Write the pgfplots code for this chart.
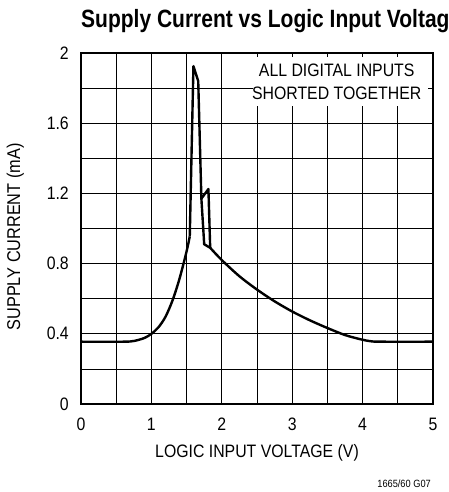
\documentclass[border=0pt]{standalone}
\usepackage{pgfplots}
\pgfplotsset{compat=1.18}
\usepackage{fontspec}
\setmainfont[FakeStretch=0.88]{Liberation Sans}
\newfontfamily\titlefont[FakeStretch=0.84]{Liberation Sans}
\newcommand{\fs}{\fontsize{18bp}{22bp}\selectfont}
\begin{document}
\begin{tikzpicture}
\useasboundingbox (0,0) rectangle (449bp,492bp);
\clip (0,0) rectangle (449bp,492bp);
\begin{axis}[
  at={(81bp,88bp)}, anchor=south west,
  scale only axis, width=352bp, height=351bp,
  xmin=0, xmax=5, ymin=0, ymax=2,
  xtick={0,1,2,3,4,5},
  minor xtick={0.5,1.5,2.5,3.5,4.5},
  ytick={0,0.4,0.8,1.2,1.6,2},
  yticklabels={0,0.4,0.8,1.2,1.6,2},
  minor ytick={0.2,0.6,1.0,1.4,1.8},
  grid=both,
  major grid style={black, line width=0.7bp},
  minor grid style={black, line width=0.7bp},
  major tick length=0pt, minor tick length=0pt,
  axis line style={black, line width=1.2bp},
  /pgf/number format/assume math mode=true,
  ticklabel style={font=\fs, inner sep=0pt},
  xticklabel style={anchor=north, yshift=-14bp},
  yticklabel style={anchor=east, xshift=-12bp},
  xlabel={LOGIC INPUT VOLTAGE (V)},
  xlabel style={font=\fs, at={(axis description cs:0.5,0)}, anchor=base, yshift=-53bp, inner sep=0pt},
]
\fill[white] (axis cs:2.44,1.70) rectangle (axis cs:4.93,1.975);
\node[font=\fs, align=center, inner sep=0pt] at (axis cs:3.632,1.838) {ALL DIGITAL INPUTS\\[1bp]SHORTED TOGETHER};
% rising part
\addplot[black, line width=2.4bp, smooth, tension=0.5] coordinates {
(0,0.355)(0.6,0.355)(0.75,0.359)(0.9,0.376)(1.0,0.40)(1.1,0.437)(1.2,0.497)(1.3,0.59)(1.4,0.715)(1.5,0.87)(1.545,0.955)
};
% spike
\addplot[black, line width=2.4bp, line join=round] coordinates {
(1.545,0.955)(1.597,1.925)(1.665,1.84)(1.71,1.17)(1.81,1.225)(1.835,0.89)
};
\addplot[black, line width=2.4bp, line join=round] coordinates {
(1.71,1.17)(1.75,0.91)(1.835,0.89)
};
% decaying part
\addplot[black, line width=2.4bp, smooth, tension=0.5] coordinates {
(1.835,0.89)(2.0,0.82)(2.25,0.728)(2.5,0.652)(2.75,0.585)(3.0,0.527)(3.25,0.477)(3.5,0.433)(3.75,0.393)(4.0,0.366)(4.15,0.356)(4.3,0.355)(5,0.355)
};
\end{axis}
\node[anchor=base west, inner sep=0pt, font=\titlefont\bfseries\fontsize{25bp}{28bp}\selectfont] at (81bp,464bp) {Supply Current vs Logic Input Voltage};
\node[rotate=90, anchor=base, inner sep=0pt, font=\fontsize{18.5bp}{22bp}\selectfont] at (20bp,255bp) {SUPPLY CURRENT (mA)};
\node[anchor=base east, inner sep=0pt, font=\fontsize{10.5bp}{12bp}\selectfont] at (431bp,5bp) {1665/60 G07};
\end{tikzpicture}
\end{document}
